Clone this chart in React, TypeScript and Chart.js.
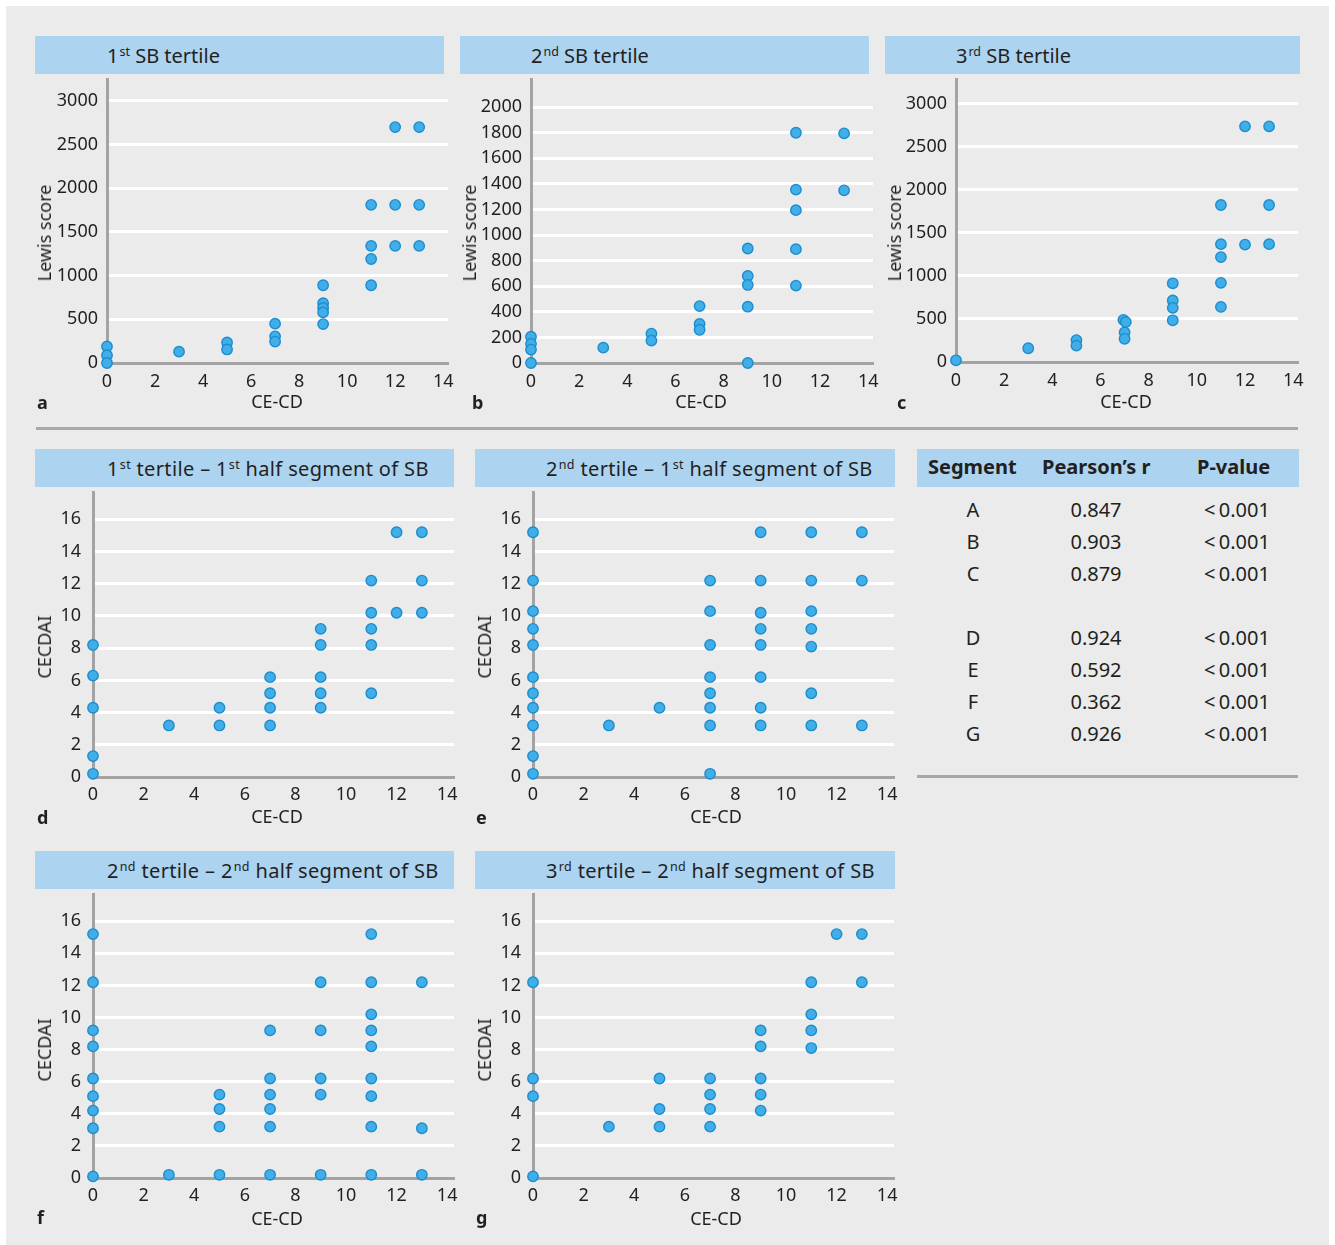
import React, { useEffect, useRef } from "react";
import { Chart, registerables } from "chart.js";

Chart.register(...registerables);

const FONT = "'Noto Sans', 'DejaVu Sans', sans-serif";
const TXT = "#231f20";
const BG = "#eaebea";
const BAR = "#acd3f0";
const AXIS = "#a3a3a3";
const DOT = "#41aee8";
const DOT_EDGE = "#1a8dd0";

// ---- Tick values
const xTicks = [0, 2, 4, 6, 8, 10, 12, 14];
const lewisTicksAC = [0, 500, 1000, 1500, 2000, 2500, 3000];
const lewisTicksB = [0, 200, 400, 600, 800, 1000, 1200, 1400, 1600, 1800, 2000];
const cecdaiTicks = [0, 2, 4, 6, 8, 10, 12, 14, 16];

// ---- Panel a: 1st SB tertile (Lewis score vs CE-CD)
const aX = [0, 0, 0, 3, 5, 5, 7, 7, 7, 9, 9, 9, 9, 9, 11, 11, 11, 11, 12, 12, 12, 13, 13, 13];
const aY = [190, 90, 0, 130, 235, 155, 450, 305, 245, 890, 685, 630, 580, 445, 1810, 1340, 1190, 890, 2700, 1810, 1340, 2700, 1810, 1340];

// ---- Panel b: 2nd SB tertile
const bX = [0, 0, 0, 0, 3, 5, 5, 7, 7, 7, 9, 9, 9, 9, 9, 11, 11, 11, 11, 11, 13, 13];
const bY = [205, 150, 105, 0, 120, 230, 175, 445, 305, 260, 895, 680, 610, 440, 0, 1800, 1355, 1195, 890, 605, 1795, 1350];

// ---- Panel c: 3rd SB tertile
const cX = [0, 3, 5, 5, 6.95, 7.05, 7, 7, 9, 9, 9, 9, 11, 11, 11, 11, 11, 12, 12, 13, 13, 13];
const cY = [20, 160, 255, 190, 490, 465, 345, 270, 915, 715, 630, 485, 1825, 1370, 1220, 920, 640, 2740, 1365, 2740, 1825, 1370];

// ---- Panel d: 1st tertile – 1st half segment (CECDAI vs CE-CD)
const dX = [0, 0, 0, 0, 0, 3, 5, 5, 7, 7, 7, 7, 9, 9, 9, 9, 9, 11, 11, 11, 11, 11, 12, 12, 13, 13, 13];
const dY = [0.2, 1.3, 4.3, 6.3, 8.2, 3.2, 4.3, 3.2, 6.2, 5.2, 4.3, 3.2, 9.2, 8.2, 6.2, 5.2, 4.3, 12.2, 10.2, 9.2, 8.2, 5.2, 15.2, 10.2, 15.2, 12.2, 10.2];

// ---- Panel e: 2nd tertile – 1st half segment
const eX = [0, 0, 0, 0, 0, 0, 0, 0, 0, 0, 0, 3, 5, 7, 7, 7, 7, 7, 7, 7, 7, 9, 9, 9, 9, 9, 9, 9, 9, 11, 11, 11, 11, 11, 11, 11, 13, 13, 13];
const eY = [15.2, 12.2, 10.3, 9.2, 8.2, 6.2, 5.2, 4.3, 3.2, 1.3, 0.2, 3.2, 4.3, 12.2, 10.3, 8.2, 6.2, 5.2, 4.3, 3.2, 0.2, 15.2, 12.2, 10.2, 9.2, 8.2, 6.2, 4.3, 3.2, 15.2, 12.2, 10.3, 9.2, 8.1, 5.2, 3.2, 15.2, 12.2, 3.2];

// ---- Panel f: 2nd tertile – 2nd half segment
const fX = [0, 0, 0, 0, 0, 0, 0, 0, 0, 3, 5, 5, 5, 5, 7, 7, 7, 7, 7, 7, 9, 9, 9, 9, 9, 11, 11, 11, 11, 11, 11, 11, 11, 11, 13, 13, 13];
const fY = [15.2, 12.2, 9.2, 8.2, 6.2, 5.1, 4.2, 3.1, 0.1, 0.2, 5.2, 4.3, 3.2, 0.2, 9.2, 6.2, 5.2, 4.3, 3.2, 0.2, 12.2, 9.2, 6.2, 5.2, 0.2, 15.2, 12.2, 10.2, 9.2, 8.2, 6.2, 5.1, 3.2, 0.2, 12.2, 3.1, 0.2];

// ---- Panel g: 3rd tertile – 2nd half segment
const gX = [0, 0, 0, 0, 3, 5, 5, 5, 7, 7, 7, 7, 9, 9, 9, 9, 9, 11, 11, 11, 11, 12, 13, 13];
const gY = [12.2, 6.2, 5.1, 0.1, 3.2, 6.2, 4.3, 3.2, 6.2, 5.2, 4.3, 3.2, 9.2, 8.2, 6.2, 5.2, 4.2, 12.2, 10.2, 9.2, 8.1, 15.2, 15.2, 12.2];

// ---- Table
const segments = ["A", "B", "C", "D", "E", "F", "G"];
const pearsonR = ["0.847", "0.903", "0.879", "0.924", "0.592", "0.362", "0.926"];
const pValues = ["<\u20090.001", "<\u20090.001", "<\u20090.001", "<\u20090.001", "<\u20090.001", "<\u20090.001", "<\u20090.001"];
const rowY = [510, 542, 574, 638, 670, 702, 734];

type PanelProps = {
  xs: number[];
  ys: number[];
  yMax: number;
  yTicks: number[];
  xMax: number;
  left: number;
  top: number;
  cl: number;
  cr: number;
  ct: number;
  cb: number;
  yPad: number;
  xPad: number;
};

const PAD_R = 16;
const X_H = 34;

function ScatterPanel(p: PanelProps) {
  const ref = useRef<HTMLCanvasElement | null>(null);
  const W = p.cr + PAD_R - p.left;
  const H = p.cb + X_H - p.top;
  useEffect(() => {
    if (!ref.current) return;
    const yW = p.cl - p.left;
    const chart = new Chart(ref.current, {
      type: "scatter",
      data: {
        datasets: [
          {
            data: p.xs.map((x, i) => ({ x, y: p.ys[i] })),
            backgroundColor: DOT,
            borderColor: DOT_EDGE,
            borderWidth: 1.4,
            pointRadius: 5.2,
            pointHoverRadius: 5.2,
            clip: false as any,
          },
        ],
      },
      options: {
        animation: false,
        responsive: false,
        events: [],
        layout: {
          autoPadding: false,
          padding: { left: 0, top: p.ct - p.top, right: PAD_R, bottom: 0 },
        },
        plugins: { legend: { display: false }, tooltip: { enabled: false } },
        scales: {
          x: {
            type: "linear",
            min: 0,
            max: p.xMax,
            grid: { display: false, drawTicks: false },
            border: { display: true, color: AXIS, width: 3 },
            afterBuildTicks: (s: any) => {
              s.ticks = xTicks.map((v) => ({ value: v }));
            },
            ticks: {
              padding: p.xPad,
              color: TXT,
              maxRotation: 0,
              autoSkip: false,
              callback: (v: any) => String(v),
              font: { family: FONT, size: 18 },
            },
            afterFit: (s: any) => {
              s.height = X_H;
              s.paddingLeft = 0;
              s.paddingRight = 0;
            },
          },
          y: {
            type: "linear",
            min: 0,
            max: p.yMax,
            grid: {
              drawTicks: false,
              lineWidth: 3,
              color: (ctx: any) => (ctx.tick && ctx.tick.value === 0 ? "rgba(0,0,0,0)" : "#ffffff"),
            },
            border: { display: true, color: AXIS, width: 3 },
            afterBuildTicks: (s: any) => {
              s.ticks = p.yTicks.map((v) => ({ value: v }));
            },
            ticks: {
              padding: p.yPad,
              color: TXT,
              autoSkip: false,
              callback: (v: any) => String(v),
              font: { family: FONT, size: 18 },
            },
            afterFit: (s: any) => {
              s.width = yW;
              s.paddingTop = 0;
              s.paddingBottom = 0;
            },
          },
        },
      } as any,
    });
    return () => chart.destroy();
  }, []);
  return (
    <canvas
      ref={ref}
      width={W}
      height={H}
      style={{ position: "absolute", left: p.left, top: p.top, width: W, height: H }}
    />
  );
}

function Sup({ t }: { t: string }) {
  return (
    <span style={{ fontSize: 12.5, position: "relative", top: -7, marginLeft: 1 }}>{t}</span>
  );
}

function TitleBar({ x, y, w, h, padL, children, spacing = 0 }: any) {
  return (
    <div
      style={{
        position: "absolute",
        left: x,
        top: y,
        width: w,
        height: h,
        background: BAR,
        display: "flex",
        alignItems: "center",
        paddingLeft: padL,
        boxSizing: "border-box",
        fontSize: 20,
        letterSpacing: spacing,
        color: TXT,
        whiteSpace: "nowrap",
      }}
    >
      <span>{children}</span>
    </div>
  );
}

function Txt({ x, y, children, size = 18, bold = false, align = "center" }: any) {
  const tx = align === "center" ? "-50%" : align === "right" ? "-100%" : "0";
  return (
    <div
      style={{
        position: "absolute",
        left: x,
        top: y,
        transform: `translate(${tx}, -50%)`,
        fontSize: size,
        fontWeight: bold ? 700 : 400,
        color: TXT,
        whiteSpace: "nowrap",
        lineHeight: 1,
      }}
    >
      {children}
    </div>
  );
}

function YTitle({ x, y, children }: any) {
  return (
    <div
      style={{
        position: "absolute",
        left: x,
        top: y,
        transform: "translate(-50%, -50%) rotate(-90deg)",
        fontSize: 18,
        color: TXT,
        whiteSpace: "nowrap",
        lineHeight: 1,
      }}
    >
      {children}
    </div>
  );
}

export default function App() {
  return (
    <div
      style={{
        position: "absolute",
        left: 0,
        top: 0,
        width: 1335,
        height: 1245,
        background: "#ffffff",
        fontFamily: FONT,
        overflow: "hidden",
      }}
    >
      <div style={{ position: "absolute", left: 6, top: 6, width: 1323, height: 1239, background: BG }} />

      {/* Row 1 titles */}
      <TitleBar x={35} y={36} w={409} h={38} padL={72}>
        1<Sup t="st" /> SB tertile
      </TitleBar>
      <TitleBar x={460} y={36} w={409} h={38} padL={71}>
        2<Sup t="nd" /> SB tertile
      </TitleBar>
      <TitleBar x={885} y={36} w={415} h={38} padL={71}>
        3<Sup t="rd" /> SB tertile
      </TitleBar>

      <ScatterPanel xs={aX} ys={aY} yMax={3250} yTicks={lewisTicksAC} xMax={14.2} left={35} top={74} cl={107} cr={448} ct={79} cb={363} yPad={9} xPad={8} />
      <ScatterPanel xs={bX} ys={bY} yMax={2220} yTicks={lewisTicksB} xMax={14.2} left={460} top={74} cl={531} cr={873} ct={79} cb={363} yPad={9} xPad={8} />
      <ScatterPanel xs={cX} ys={cY} yMax={3290} yTicks={lewisTicksAC} xMax={14.2} left={885} top={74} cl={956} cr={1298} ct={79} cb={362} yPad={9} xPad={8} />

      <YTitle x={44} y={233}>Lewis score</YTitle>
      <YTitle x={469} y={233}>Lewis score</YTitle>
      <YTitle x={894} y={233}>Lewis score</YTitle>
      <Txt x={277} y={401}>CE-CD</Txt>
      <Txt x={701} y={401}>CE-CD</Txt>
      <Txt x={1126} y={401}>CE-CD</Txt>
      <Txt x={37} y={402} bold align="left">a</Txt>
      <Txt x={472} y={402} bold align="left">b</Txt>
      <Txt x={897} y={402} bold align="left">c</Txt>

      {/* separator */}
      <div style={{ position: "absolute", left: 36, top: 427, width: 1262, height: 3, background: "#a8a8a8" }} />

      {/* Row 2 */}
      <TitleBar x={35} y={449} w={419} h={38} padL={72} spacing={0.35}>
        1<Sup t="st" /> tertile – 1<Sup t="st" /> half segment of SB
      </TitleBar>
      <TitleBar x={475} y={449} w={420} h={38} padL={71} spacing={0.35}>
        2<Sup t="nd" /> tertile – 1<Sup t="st" /> half segment of SB
      </TitleBar>

      <ScatterPanel xs={dX} ys={dY} yMax={17.7} yTicks={cecdaiTicks} xMax={14.27} left={35} top={487} cl={93} cr={454} ct={492} cb={777} yPad={12} xPad={7} />
      <ScatterPanel xs={eX} ys={eY} yMax={17.7} yTicks={cecdaiTicks} xMax={14.27} left={475} top={487} cl={533} cr={894} ct={492} cb={777} yPad={12} xPad={7} />

      <YTitle x={44} y={647}>CECDAI</YTitle>
      <YTitle x={484} y={647}>CECDAI</YTitle>
      <Txt x={277} y={816}>CE-CD</Txt>
      <Txt x={716} y={816}>CE-CD</Txt>
      <Txt x={37} y={817} bold align="left">d</Txt>
      <Txt x={476} y={817} bold align="left">e</Txt>

      {/* Table */}
      <div style={{ position: "absolute", left: 917, top: 449, width: 382, height: 38, background: BAR }} />
      <Txt x={928} y={467} size={20} bold align="left">Segment</Txt>
      <Txt x={1042} y={467} size={20} bold align="left">Pearson’s r</Txt>
      <Txt x={1197} y={467} size={20} bold align="left">P-value</Txt>
      {segments.map((s, i) => (
        <React.Fragment key={s}>
          <Txt x={973} y={rowY[i]} size={20}>{s}</Txt>
          <Txt x={1096} y={rowY[i]} size={20}>{pearsonR[i]}</Txt>
          <Txt x={1237} y={rowY[i]} size={20}>{pValues[i]}</Txt>
        </React.Fragment>
      ))}
      <div style={{ position: "absolute", left: 917, top: 775, width: 381, height: 3, background: "#a8a8a8" }} />

      {/* Row 3 */}
      <TitleBar x={35} y={851} w={419} h={38} padL={72} spacing={0.35}>
        2<Sup t="nd" /> tertile – 2<Sup t="nd" /> half segment of SB
      </TitleBar>
      <TitleBar x={475} y={851} w={420} h={38} padL={71} spacing={0.35}>
        3<Sup t="rd" /> tertile – 2<Sup t="nd" /> half segment of SB
      </TitleBar>

      <ScatterPanel xs={fX} ys={fY} yMax={17.7} yTicks={cecdaiTicks} xMax={14.27} left={35} top={889} cl={93} cr={454} ct={894} cb={1178} yPad={12} xPad={7} />
      <ScatterPanel xs={gX} ys={gY} yMax={17.7} yTicks={cecdaiTicks} xMax={14.27} left={475} top={889} cl={533} cr={894} ct={894} cb={1178} yPad={12} xPad={7} />

      <YTitle x={44} y={1050}>CECDAI</YTitle>
      <YTitle x={484} y={1050}>CECDAI</YTitle>
      <Txt x={277} y={1218}>CE-CD</Txt>
      <Txt x={716} y={1218}>CE-CD</Txt>
      <Txt x={37} y={1217} bold align="left">f</Txt>
      <Txt x={476} y={1217} bold align="left">g</Txt>
    </div>
  );
}
